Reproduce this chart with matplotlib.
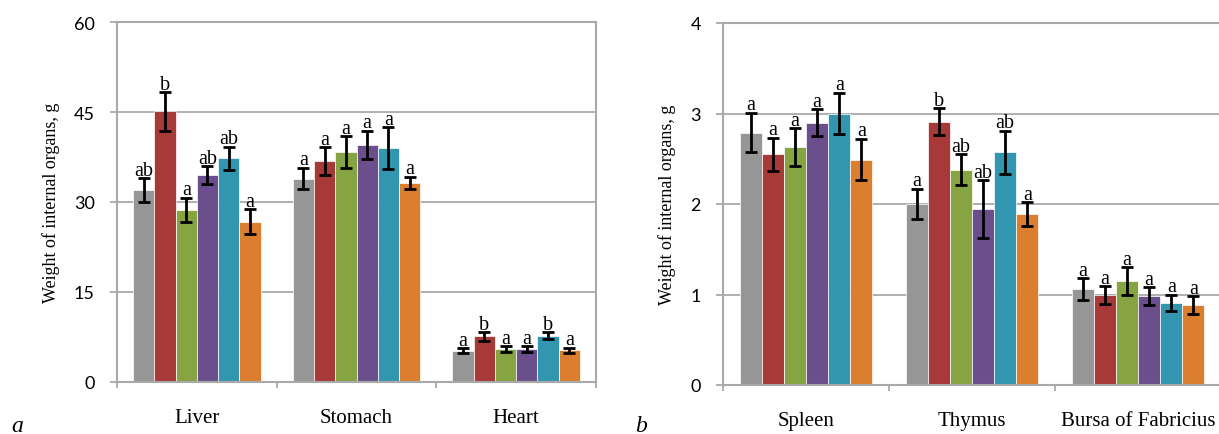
import matplotlib
matplotlib.use('Agg')
import matplotlib.pyplot as plt
import numpy as np

# panel a
cats_a = ['Liver', 'Stomach', 'Heart']
vals_a = [[32.0, 33.9, 5.2],
          [45.1, 36.8, 7.6],
          [28.7, 38.3, 5.5],
          [34.5, 39.5, 5.5],
          [37.3, 39.0, 7.7],
          [26.7, 33.2, 5.3]]
errs_a = [[2.0, 1.8, 0.4],
          [3.2, 2.3, 0.7],
          [2.0, 2.7, 0.5],
          [1.5, 2.4, 0.5],
          [1.9, 3.5, 0.6],
          [2.1, 1.0, 0.4]]
lets_a = [['ab', 'a', 'a'],
          ['b', 'a', 'b'],
          ['a', 'a', 'a'],
          ['ab', 'a', 'a'],
          ['ab', 'a', 'b'],
          ['a', 'a', 'a']]

# panel b
cats_b = ['Spleen', 'Thymus', 'Bursa of Fabricius']
vals_b = [[2.79, 2.00, 1.06],
          [2.55, 2.91, 0.99],
          [2.63, 2.38, 1.15],
          [2.90, 1.94, 0.98],
          [3.00, 2.57, 0.91],
          [2.49, 1.89, 0.88]]
errs_b = [[0.22, 0.17, 0.12],
          [0.18, 0.15, 0.10],
          [0.21, 0.17, 0.15],
          [0.15, 0.32, 0.10],
          [0.23, 0.24, 0.09],
          [0.23, 0.13, 0.10]]
lets_b = [['a', 'a', 'a'],
          ['a', 'b', 'a'],
          ['a', 'ab', 'a'],
          ['a', 'ab', 'a'],
          ['a', 'ab', 'a'],
          ['a', 'a', 'a']]

colors = ['#969696', '#a73a38', '#87a443', '#6b4f8c', '#3396b0', '#db7f2f']
grid_c = '#a9a9a9'
serif = 'Liberation Serif'


def panel(ax, cats, vals, errs, lets, ymax, ystep, ylabel):
    x = np.arange(len(cats))
    w = 0.8 / 6
    for i in range(6):
        pos = x + (i - 2.5) * w
        ax.bar(pos, vals[i], w, color=colors[i], edgecolor='white',
               linewidth=0.5, zorder=2,
               yerr=errs[i], error_kw=dict(ecolor='black', elinewidth=2,
                                            capsize=4, capthick=2))
        for p, v, e, t in zip(pos, vals[i], errs[i], lets[i]):
            ax.annotate(t, (p, v + e), xytext=(0, 2.5), textcoords='offset points',
                        ha='center', va='baseline', family=serif, fontsize=14.5)
    ax.set_xlim(-0.5, len(cats) - 0.5)
    ax.set_ylim(0, ymax)
    ax.set_yticks(np.arange(0, ymax + ystep / 2, ystep))
    ax.yaxis.grid(True, color=grid_c, linewidth=1.3, zorder=0)
    ax.set_axisbelow(True)
    ax.set_xticks(np.arange(len(cats) + 1) - 0.5)
    ax.set_xticklabels([])
    ax.set_xticks(x, minor=True)
    ax.set_xticklabels(cats, minor=True, family=serif, fontsize=15)
    ax.tick_params(axis='x', which='major', direction='out', length=4,
                   width=1.3, color=grid_c)
    ax.tick_params(axis='x', which='minor', length=0, pad=19)
    ax.tick_params(axis='y', direction='out', length=5, width=1.3,
                   color=grid_c, pad=11, labelsize=13)
    for lab in ax.get_yticklabels():
        lab.set_family('Lato')
    for s in ax.spines.values():
        s.set_color(grid_c)
        s.set_linewidth(1.5)
    ax.set_ylabel(ylabel, family=serif, fontsize=13, labelpad=10)


fig = plt.figure(figsize=(12.19, 4.35), dpi=100)
ax1 = fig.add_axes([117 / 1219, 1 - 383 / 435, (596 - 117) / 1219, (383 - 23) / 435])
ax2 = fig.add_axes([723 / 1219, 1 - 386 / 435, (1221 - 723) / 1219, (386 - 24) / 435])

panel(ax1, cats_a, vals_a, errs_a, lets_a, 60, 15, 'Weight of internal organs, g')
panel(ax2, cats_b, vals_b, errs_b, lets_b, 4, 1, 'Weight of internal organs, g')

fig.text(11 / 1219, 1 - 432 / 435, 'a', family=serif, style='italic', fontsize=17)
fig.text(635 / 1219, 1 - 432 / 435, 'b', family=serif, style='italic', fontsize=17)

fig.savefig('out.png', dpi=100)
